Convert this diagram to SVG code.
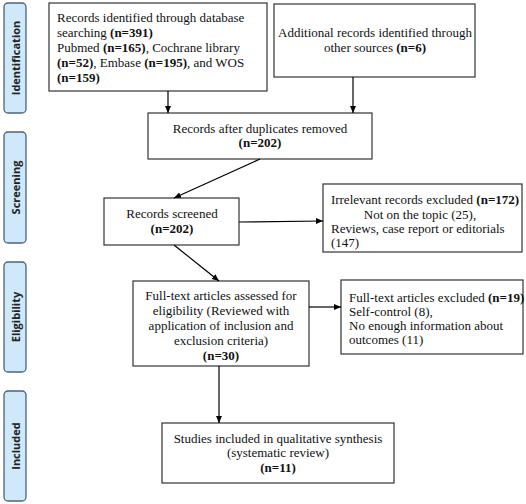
<svg xmlns="http://www.w3.org/2000/svg" width="526" height="504" viewBox="0 0 526 504">
<defs>
<marker id="ah" markerWidth="8" markerHeight="8" refX="7" refY="4" orient="auto" markerUnits="userSpaceOnUse">
<path d="M0,1 L7,4 L0,7 Z" fill="#000"/>
</marker>
<style>
.side{fill:#cfe8fa;stroke:#4f6378;stroke-width:1.3}
.sl{font-weight:bold;font-size:11px;fill:#222;text-anchor:middle}
.box{fill:#fff;stroke:#333;stroke-width:1.2}
.t{font-size:13px;fill:#111}
.c{text-anchor:middle}
.b{font-weight:bold}
.conn line{stroke:#000;stroke-width:1.2;marker-end:url(#ah)}
</style>
</defs>
<rect width="526" height="504" fill="#fff"/>
<g font-family="Open Sans, DejaVu Sans, sans-serif">
<g id="side-identification"><rect class="side" x="4" y="3" width="22" height="110" rx="4"/><text class="sl" transform="translate(19.5,58) rotate(-90)">Identification</text></g>
<g id="side-screening"><rect class="side" x="4" y="132" width="22" height="111" rx="4"/><text class="sl" transform="translate(19.5,187.5) rotate(-90)">Screening</text></g>
<g id="side-eligibility"><rect class="side" x="4" y="262" width="22" height="110" rx="4"/><text class="sl" transform="translate(19.5,317) rotate(-90)">Eligibility</text></g>
<g id="side-included"><rect class="side" x="4" y="391" width="22" height="110" rx="4"/><text class="sl" transform="translate(19.5,446) rotate(-90)">Included</text></g>
</g>
<g font-family="Liberation Serif, Times New Roman, serif">
<g id="n1"><rect class="box" x="49" y="3" width="218" height="88"/>
<text class="t" x="57" y="22">Records identified through database</text>
<text class="t" x="57" y="37">searching <tspan class="b">(n=391)</tspan></text>
<text class="t" x="57" y="52">Pubmed <tspan class="b">(n=165)</tspan>, Cochrane library</text>
<text class="t" x="57" y="67"><tspan class="b">(n=52)</tspan>, Embase <tspan class="b">(n=195)</tspan>, and WOS</text>
<text class="t" x="57" y="82"><tspan class="b">(n=159)</tspan></text></g>

<g id="n2"><rect class="box" x="274" y="4" width="201" height="73"/>
<text class="t c" x="375" y="37">Additional records identified through</text>
<text class="t c" x="375" y="52">other sources <tspan class="b">(n=6)</tspan></text></g>

<g id="n3"><rect class="box" x="148" y="113" width="224" height="46"/>
<text class="t c" x="260" y="133">Records after duplicates removed</text>
<text class="t c b" x="260" y="147">(n=202)</text></g>

<g id="n4"><rect class="box" x="104" y="198" width="135" height="47"/>
<text class="t c" x="172" y="218">Records screened</text>
<text class="t c b" x="172" y="233">(n=202)</text></g>

<g id="n5"><rect class="box" x="323" y="184" width="199" height="68"/>
<text class="t c" x="425" y="204">Irrelevant records excluded <tspan class="b">(n=172)</tspan></text>
<text class="t c" x="420" y="219">Not on the topic (25),</text>
<text class="t" x="331" y="233">Reviews, case report or editorials</text>
<text class="t" x="331" y="247">(147)</text></g>

<g id="n6"><rect class="box" x="133" y="281" width="176" height="85"/>
<text class="t c" x="221" y="300">Full-text articles assessed for</text>
<text class="t c" x="221" y="315">eligibility (Reviewed with</text>
<text class="t c" x="221" y="330">application of inclusion and</text>
<text class="t c" x="221" y="345">exclusion criteria)</text>
<text class="t c b" x="221" y="360">(n=30)</text></g>

<g id="n7"><rect class="box" x="341" y="280" width="182" height="74"/>
<text class="t" x="349" y="302">Full-text articles excluded <tspan class="b">(n=19)</tspan></text>
<text class="t" x="349" y="316">Self-control (8),</text>
<text class="t" x="349" y="330">No enough information about</text>
<text class="t" x="349" y="344">outcomes (11)</text></g>

<g id="n8"><rect class="box" x="162" y="423" width="232" height="60"/>
<text class="t c" x="278" y="443">Studies included in qualitative synthesis</text>
<text class="t c" x="278" y="457">(systematic review)</text>
<text class="t c b" x="278" y="472">(n=11)</text></g>
</g>
<g id="connectors" class="conn">
<line x1="168" y1="91" x2="168" y2="113"/>
<line x1="353" y1="77" x2="353" y2="113"/>
<line x1="260" y1="159" x2="174" y2="198"/>
<line x1="239" y1="222" x2="323" y2="221"/>
<line x1="174" y1="245" x2="219" y2="281"/>
<line x1="309" y1="307" x2="341" y2="307"/>
<line x1="219" y1="366" x2="219" y2="423"/>
</g>
</svg>
